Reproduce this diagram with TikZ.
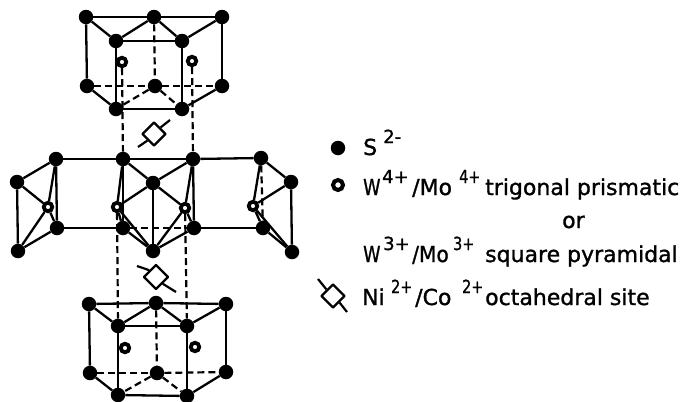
\documentclass[tikz,border=0pt]{standalone}
\usepackage{fontspec}
\usetikzlibrary{shapes.geometric}
\setmainfont{DejaVu Sans}[BoldFont={DejaVu Sans},BoldFeatures={FakeBold=1.2}]
\tikzset{
  x=1pt,y=-1pt,
  atom/.style={circle,fill=black,inner sep=0pt,minimum size=14.5pt},
  metal/.style={circle,draw=black,fill=white,line width=3.8pt,inner sep=0pt,minimum size=8.5pt},
  bond/.style={line width=2.3pt},
  hid/.style={line width=2.2pt,dash pattern=on 7pt off 4pt},
  site/.style={line width=2.2pt,line join=round},
  sitebox/.style={site,draw,diamond,aspect=1,inner sep=0pt},
  lab/.style={anchor=base west,inner sep=0pt,font=\fontsize{22}{26}\selectfont\bfseries},
  suplab/.style={anchor=base west,inner sep=0pt,font=\fontsize{18}{20}\selectfont\bfseries},
  narrow/.style={xscale=.8},
}
\begin{document}
\begin{tikzpicture}
\useasboundingbox (0,0) rectangle (689,402);
\foreach \n/\x/\y in {a1/86/17,a2/154/17,a3/222/17,a4/116/41,a5/182/41,a6/87/86,a7/155/86,a8/222/86,a9/116/109,a10/182/109,
 b1/56/159,b2/123/159,b3/193/159,b4/261/158,b5/17/182,b6/153/183,b7/291/182,b8/57/228,b9/123/228,b10/194/228,b11/263/228,b12/18/251,b13/153/251,b14/292/252,
 c1/89/304,c2/156/303,c3/226/304,c4/118/326,c5/187/326,c6/90/373,c7/157/373,c8/226/372,c9/118/395,c10/187/396}
  \node[atom] (\n) at (\x,\y) {};
\foreach \n/\x/\y in {m1/122/62,m2/192/61,m3/48/207,m4/117/207,m5/185/208,m6/253/206,m7/125/348,m8/195/347}
  \node[metal] (\n) at (\x,\y) {};
% solid bonds
\foreach \p/\q in {a1/a2,a2/a3,a1/a4,a2/a4,a2/a5,a3/a5,a4/a5,a1/a6,a4/a9,a5/a10,a3/a8,a6/a9,a9/a10,a10/a8,
 b1/b2,b2/b3,b3/b4,b5/b1,b5/b12,b12/b8,b1/b8,b8/b9,b10/b11,b2/b6,b3/b6,b6/b13,b9/b13,b10/b13,b2/b9,b3/b10,b4/b7,b7/b14,b14/b11,
 m3/b1,m3/b5,m3/b8,m3/b12,m4/b2,m4/b6,m4/b9,m4/b13,m5/b3,m5/b6,m5/b10,m5/b13,m6/b4,m6/b7,m6/b11,m6/b14,
 c1/c2,c2/c3,c1/c4,c2/c4,c2/c5,c3/c5,c4/c5,c1/c6,c4/c9,c5/c10,c3/c8,c6/c9,c9/c10,c10/c8}
  \draw[bond] (\p) -- (\q);
% hidden bonds
\foreach \p/\q in {a2/a7,a6/a7,a7/a8,a7/a9,a7/a10,c2/c7,c6/c7,c7/c8,c7/c9,c7/c10,b9/b10,b4/b11,
 m1/b2,m2/b3,m4/c4,m5/c5}
  \draw[hid] (\p) -- (\q);
% sites
\coordinate (t1) at (170,120);
\coordinate (t2) at (138,147);
\coordinate (u1) at (137,266);
\coordinate (u2) at (176,292);
\coordinate (v1) at (318,279);
\coordinate (v2) at (347,312);
\node[sitebox,minimum size=24pt] (d1) at (154,134) {};
\node[sitebox,minimum size=25pt] (d2) at (156,277) {};
\node[sitebox,minimum size=24pt] (d3) at (333,296) {};
\draw[site] (t1) -- (d1.north east);
\draw[site] (t2) -- (d1.south west);
\draw[site] (u1) -- (d2.north west);
\draw[site] (u2) -- (d2.south east);
\draw[site] (v1) -- (d3.north west);
\draw[site] (v2) -- (d3.south east);
% legend
\node[atom] (k1) at (338,148) {};
\node[circle,draw=black,fill=white,line width=4pt,inner sep=0pt,minimum size=10pt] (k2) at (338,185) {};
\node[lab] (s) at (363,155) {S};
\node[suplab] (s2) at (383,143) {2-};
\node[lab,narrow] (w4) at (363,195) {W};
\node[suplab] (w4s) at (382,183) {4+};
\node[lab] (mo4) at (412,195) {/Mo};
\node[suplab,narrow] (mo4s) at (459,183) {4+};
\node[lab] (tp) at (485,195) {trigonal prismatic};
\node[lab] (or) at (562,228) {or};
\node[lab,narrow] (w3) at (363,262) {W};
\node[suplab] (w3s) at (383,250) {3+};
\node[lab,xscale=.92] (mo3) at (412,262) {/Mo};
\node[suplab,narrow] (mo3s) at (453,250) {3+};
\node[lab] (sq) at (485,262) {square pyramidal};
\node[lab] (ni) at (362,305) {Ni};
\node[suplab,narrow] (ni2) at (391,293) {2+};
\node[lab] (co) at (415,305) {/Co};
\node[suplab,narrow] (co2) at (462,293) {2+};
\node[lab] (oc) at (485,305) {octahedral site};
\end{tikzpicture}
\end{document}
